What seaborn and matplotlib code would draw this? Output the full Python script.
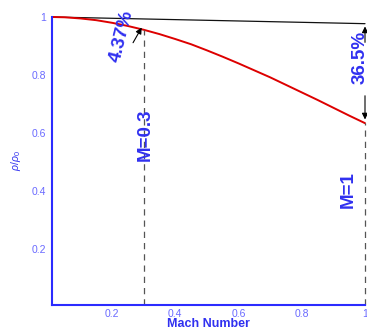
import numpy as np
import pandas as pd
import matplotlib
matplotlib.use("Agg")
import matplotlib.pyplot as plt
import seaborn as sns

# Data
mach = [0.01, 0.05, 0.1, 0.15, 0.2, 0.25, 0.3, 0.35, 0.4, 0.45, 0.5,
        0.55, 0.6, 0.65, 0.7, 0.75, 0.8, 0.85, 0.9, 0.95, 1.0]
density_ratio = [1.000, 0.999, 0.995, 0.989, 0.980, 0.969, 0.956, 0.941, 0.924, 0.906, 0.885,
                 0.863, 0.840, 0.816, 0.792, 0.766, 0.740, 0.714, 0.687, 0.660, 0.634]
ref_mach = [0.01, 1.0]
ref_ratio = [1.0, 0.977]
xticks = [0.2, 0.4, 0.6, 0.8, 1.0]
xtick_labels = ["0.2", "0.4", "0.6", "0.8", "1"]
yticks = [0.2, 0.4, 0.6, 0.8, 1.0]
ytick_labels = ["0.2", "0.4", "0.6", "0.8", "1"]
mark_m = [0.3, 1.0]
mark_labels = ["M=0.3", "M=1"]
pct_labels = ["4.37%", "36.5%"]

sns.set_style("white")
plt.rcParams['font.family'] = ['Liberation Sans', 'DejaVu Sans']
plt.rcParams['mathtext.fontset'] = 'custom'
plt.rcParams['mathtext.rm'] = 'Liberation Sans'
plt.rcParams['mathtext.it'] = 'Liberation Sans:italic'

BLUE = "#2b2bff"
TICKBLUE = "#6a6aff"
TXTBLUE = "#3030f0"

fig = plt.figure(figsize=(3.67, 3.33), dpi=100)
ax = fig.add_axes([52/367, 1-305/333, (365-52)/367, (305-17)/333])

df_curve = pd.DataFrame({"M": mach, "r": density_ratio})
df_ref = pd.DataFrame({"M": ref_mach, "r": ref_ratio})
sns.lineplot(data=df_ref, x="M", y="r", ax=ax, color="#111111", lw=0.9, clip_on=False)
sns.lineplot(data=df_curve, x="M", y="r", ax=ax, color="#dd0000", lw=1.4, clip_on=False)

ax.set_xlim(0.01, 1.0)
ax.set_ylim(0.007, 1.0)

# dashed verticals
for m in mark_m:
    yv = np.interp(m, mach, density_ratio)
    ax.plot([m, m], [0.007, yv], ls=(0, (5, 4)), color="#555555", lw=0.9, clip_on=False)

# M labels
ax.text(0.305, 0.595, mark_labels[0], rotation=90, ha="center", va="center",
        fontsize=13.5, fontweight="bold", color=TXTBLUE)
ax.text(0.946, 0.405, mark_labels[1], rotation=90, ha="center", va="center",
        fontsize=13.5, fontweight="bold", color=TXTBLUE)

# 4.37% annotation
ax.text(0.232, 0.935, pct_labels[0], rotation=76, ha="center", va="center",
        fontsize=13.5, fontweight="bold", color=TXTBLUE)
ax.annotate("", xy=(0.298, 0.972), xytext=(0.262, 0.903),
            arrowprops=dict(arrowstyle="-|>", color="k", lw=0.8, mutation_scale=9))

# 36.5% annotation
ax.text(0.984, 0.862, pct_labels[1], rotation=90, ha="center", va="center",
        fontsize=13.5, fontweight="bold", color=TXTBLUE, clip_on=False)
ax.annotate("", xy=(1.0, 0.977), xytext=(1.0, 0.903),
            arrowprops=dict(arrowstyle="-|>", color="k", lw=0.8, mutation_scale=9),
            annotation_clip=False)
ax.annotate("", xy=(1.0, 0.637), xytext=(1.0, 0.738),
            arrowprops=dict(arrowstyle="-|>", color="k", lw=0.8, mutation_scale=9),
            annotation_clip=False)

# axes styling
for s in ["top", "right"]:
    ax.spines[s].set_visible(False)
for s in ["left", "bottom"]:
    ax.spines[s].set_color(BLUE)
    ax.spines[s].set_linewidth(1.5)

ax.set_xticks(xticks)
ax.set_xticklabels(xtick_labels)
ax.set_yticks(yticks)
ax.set_yticklabels(ytick_labels)
ax.tick_params(axis="both", direction="in", length=6, width=1.5, color=BLUE,
               labelcolor=TICKBLUE, labelsize=7.5)
ax.tick_params(axis="x", pad=3)
ax.tick_params(axis="y", pad=4)

ax.set_xlabel("Mach Number", fontsize=9, fontweight="bold", color=TXTBLUE)
ax.xaxis.set_label_coords(0.5, -0.045)
ax.set_ylabel(r"$\rho/\rho_0$", fontsize=7.5, color=TXTBLUE)
ax.yaxis.set_label_coords(-0.093, 0.5)

fig.savefig("out.png", dpi=100)
